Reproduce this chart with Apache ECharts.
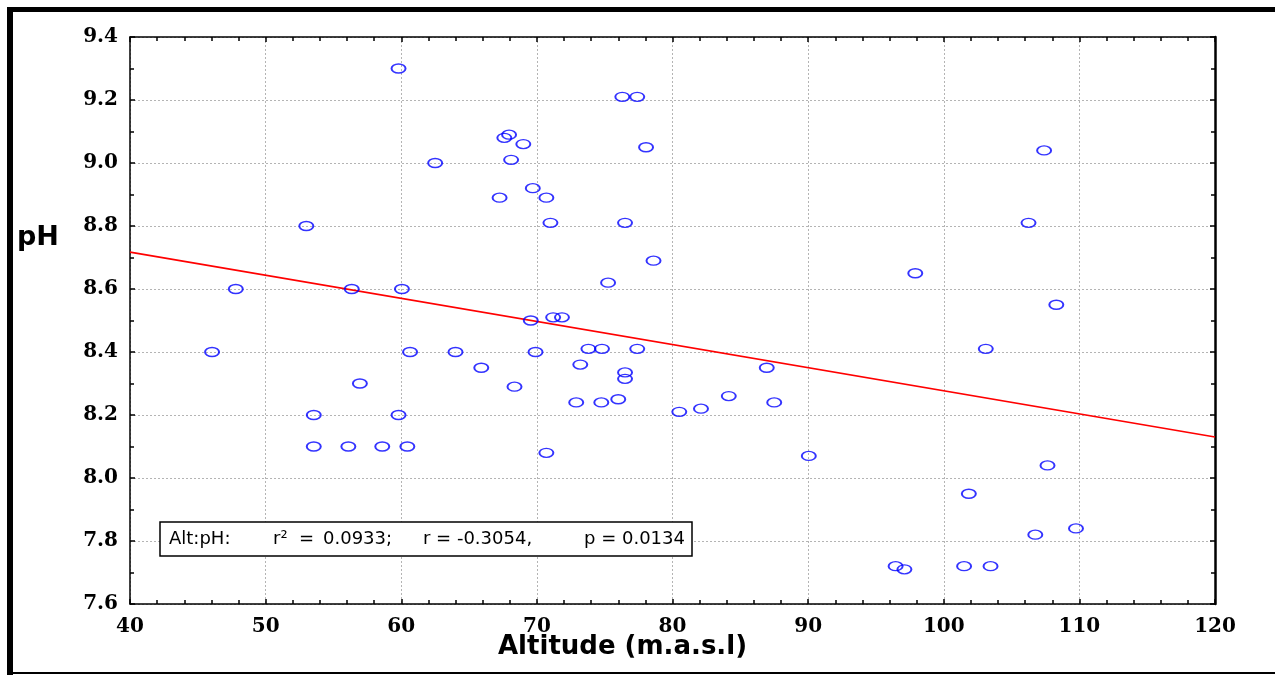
<!DOCTYPE html>
<html>
<head>
<meta charset="utf-8">
<script src="https://cdn.jsdelivr.net/npm/echarts@6/dist/echarts.min.js"></script>
<style>
  html, body { margin: 0; padding: 0; background: #fff; }
  #chart { width: 1275px; height: 675px; }
</style>
</head>
<body>
<div id="chart"></div>
<script>
// altitude (m.a.s.l) and pH
const altitude = [
  59.8, 62.5, 53.0, 47.8, 56.35, 60.05, 76.3, 77.4, 67.6, 67.95,
  69.0, 78.05, 68.1, 69.7, 67.25, 70.7, 71.0, 76.5, 78.6, 75.25,
  69.55, 71.2, 71.85, 107.4, 106.25, 97.9, 108.3, 46.05, 60.65, 56.95,
  53.55, 59.8, 53.55, 56.1, 58.6, 60.45, 64.0, 69.9, 65.9, 68.35,
  73.2, 73.8, 74.8, 77.4, 76.5, 76.5, 72.9, 74.75, 76.0, 80.5,
  82.1, 84.15, 86.95, 87.5, 70.7, 90.05, 103.1, 107.65, 101.85, 106.75,
  109.75, 96.45, 97.1, 101.5, 103.45
];
const ph = [
  9.30, 9.00, 8.80, 8.60, 8.60, 8.60, 9.21, 9.21, 9.08, 9.09,
  9.06, 9.05, 9.01, 8.92, 8.89, 8.89, 8.81, 8.81, 8.69, 8.62,
  8.50, 8.51, 8.51, 9.04, 8.81, 8.65, 8.55, 8.40, 8.40, 8.30,
  8.20, 8.20, 8.10, 8.10, 8.10, 8.10, 8.40, 8.40, 8.35, 8.29,
  8.36, 8.41, 8.41, 8.41, 8.335, 8.315, 8.24, 8.24, 8.25, 8.21,
  8.22, 8.26, 8.35, 8.24, 8.08, 8.07, 8.41, 8.04, 7.95, 7.82,
  7.84, 7.72, 7.71, 7.72, 7.72
];
// fitted regression line end points
const fitX = [40, 120];
const fitY = [8.717, 8.130];
// pieces of the statistics label
const statsParts = ['Alt:pH:', 'r²  =', '0.0933;', 'r = -0.3054,', 'p = 0.0134'];

const points = [];
for (var i = 0; i < altitude.length; i++) {
  points.push([altitude[i], ph[i]]);
}
const fitLine = [];
for (var j = 0; j < fitX.length; j++) {
  fitLine.push([fitX[j], fitY[j]]);
}

const tickFont = {
  fontFamily: 'DejaVu Serif',
  fontWeight: 'bold',
  fontSize: 20,
  color: '#000'
};
const grid = {
  show: true,
  lineStyle: { color: '#b4b4b4', type: [2, 2], width: 1 }
};
const tick = { inside: true, length: 5, lineStyle: { color: '#000', width: 1.5 } };
const minor = function (n) {
  return { show: true, splitNumber: n, length: 4, lineStyle: { color: '#000', width: 1.5 } };
};

// rich text: fixed widths to spread the label like the original
const segWidths = [104, 50, 100, 161, 100];
const rich = {};
const keys = ['a', 'b', 'c', 'd', 'e'];
var statsText = '';
for (var k = 0; k < statsParts.length; k++) {
  rich[keys[k]] = { width: segWidths[k], fontFamily: 'DejaVu Sans', fontSize: 18, color: '#000' };
  statsText += '{' + keys[k] + '|' + statsParts[k] + '}';
}

const chart = echarts.init(document.getElementById('chart'));
chart.setOption({
  backgroundColor: '#ffffff',
  animation: false,
  grid: { left: 130, top: 37, right: 60, bottom: 71 },
  xAxis: [{
    type: 'value',
    min: 40, max: 120, interval: 10,
    axisLine: { lineStyle: { color: '#000', width: 1.5 } },
    axisTick: tick,
    minorTick: minor(5),
    axisLabel: Object.assign({ margin: 13 }, tickFont),
    splitLine: grid
  }, {
    type: 'value', position: 'top',
    min: 40, max: 120, interval: 10,
    axisLine: { show: true, lineStyle: { color: '#000', width: 1.5 } },
    axisTick: tick,
    minorTick: minor(5),
    axisLabel: { show: false },
    splitLine: { show: false }
  }],
  yAxis: [{
    type: 'value',
    min: 7.6, max: 9.4, interval: 0.2,
    axisLine: { show: true, lineStyle: { color: '#000', width: 1.5 } },
    axisTick: tick,
    minorTick: minor(2),
    axisLabel: Object.assign({ margin: 12, formatter: function (v) { return v.toFixed(1); } }, tickFont),
    splitLine: grid
  }, {
    type: 'value', position: 'right',
    min: 7.6, max: 9.4, interval: 0.2,
    axisLine: { show: true, lineStyle: { color: '#000', width: 2.5 } },
    axisTick: tick,
    minorTick: minor(2),
    axisLabel: { show: false },
    splitLine: { show: false }
  }],
  series: [{
    type: 'line',
    data: fitLine,
    symbol: 'none',
    lineStyle: { color: '#ff0000', width: 1.6 },
    z: 2
  }, {
    type: 'scatter',
    data: points,
    symbol: 'circle',
    symbolSize: [14, 9],
    itemStyle: { color: 'rgba(0,0,0,0)', borderColor: '#0000ff', borderWidth: 1.6 },
    z: 3
  }],
  graphic: [
    // picture frame
    { type: 'rect', shape: { x: 7, y: 7, width: 1268, height: 5 }, style: { fill: '#000' } },
    { type: 'rect', shape: { x: 7, y: 7, width: 6, height: 668 }, style: { fill: '#000' } },
    { type: 'rect', shape: { x: 7, y: 672, width: 1268, height: 2 }, style: { fill: '#000' } },
    // axis names
    {
      type: 'text', left: 17, top: 224,
      style: { text: 'pH', fontFamily: 'DejaVu Sans', fontWeight: 'bold', fontSize: 27, fill: '#000' }
    },
    {
      type: 'text', left: 498, top: 634,
      style: { text: 'Altitude (m.a.s.l)', fontFamily: 'DejaVu Sans', fontWeight: 'bold', fontSize: 26, fill: '#000' }
    },
    // statistics box
    {
      type: 'rect', z: 10,
      shape: { x: 160, y: 522, width: 532, height: 34 },
      style: { fill: '#fff', stroke: '#000', lineWidth: 1.5 }
    },
    {
      type: 'text', z: 11, left: 169, top: 530,
      style: { text: statsText, rich: rich }
    }
  ]
});
</script>
</body>
</html>
